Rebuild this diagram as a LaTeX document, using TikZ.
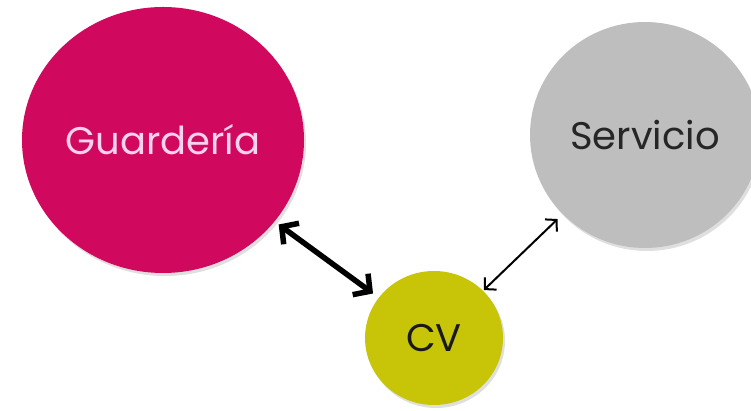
\documentclass[tikz,border=0pt]{standalone}
\usepackage{fontspec}
\setmainfont{Poppins}
\usetikzlibrary{shapes.geometric,arrows.meta,shadows}
\definecolor{magentaG}{HTML}{D0085E}
\definecolor{grayS}{HTML}{BEBEBE}
\definecolor{yellowCV}{HTML}{C8C408}
\definecolor{pinkText}{HTML}{F9D3EE}
\begin{document}
\begin{tikzpicture}[x=1pt,y=1pt,
  bubble/.style={ellipse,inner sep=0pt,draw=none,
    drop shadow={opacity=0.25,shadow xshift=2pt,shadow yshift=-3pt}},
  lbl/.style={font=\fontsize{38.5}{40}\selectfont},
  thickarrow/.style={line width=5.5pt,{Straight Barb[length=12pt,width=26pt,line width=5.5pt]}-{Straight Barb[length=12pt,width=26pt,line width=5.5pt]}},
  thinarrow/.style={line width=2pt,{Straight Barb[length=8pt,width=17pt,line width=2pt]}-{Straight Barb[length=8pt,width=17pt,line width=2pt]}}
]
\useasboundingbox (0,0) rectangle (751,411);
\node[bubble,fill=magentaG,minimum width=282pt,minimum height=266pt,text=pinkText,lbl] (G) at (163,271) {Guardería};
\node[bubble,fill=grayS,minimum width=230pt,minimum height=226pt,text=black!85,lbl] (S) at (645,276) {Servicio};
\node[bubble,fill=yellowCV,minimum width=138pt,minimum height=134pt,text=black!90,lbl] (CV) at (434,73) {CV};
\draw[thickarrow,shorten <=5pt,shorten >=7pt] (G) -- (CV);
\draw[thinarrow,shorten <=1pt,shorten >=7pt] (CV) -- (S);
\end{tikzpicture}
\end{document}
